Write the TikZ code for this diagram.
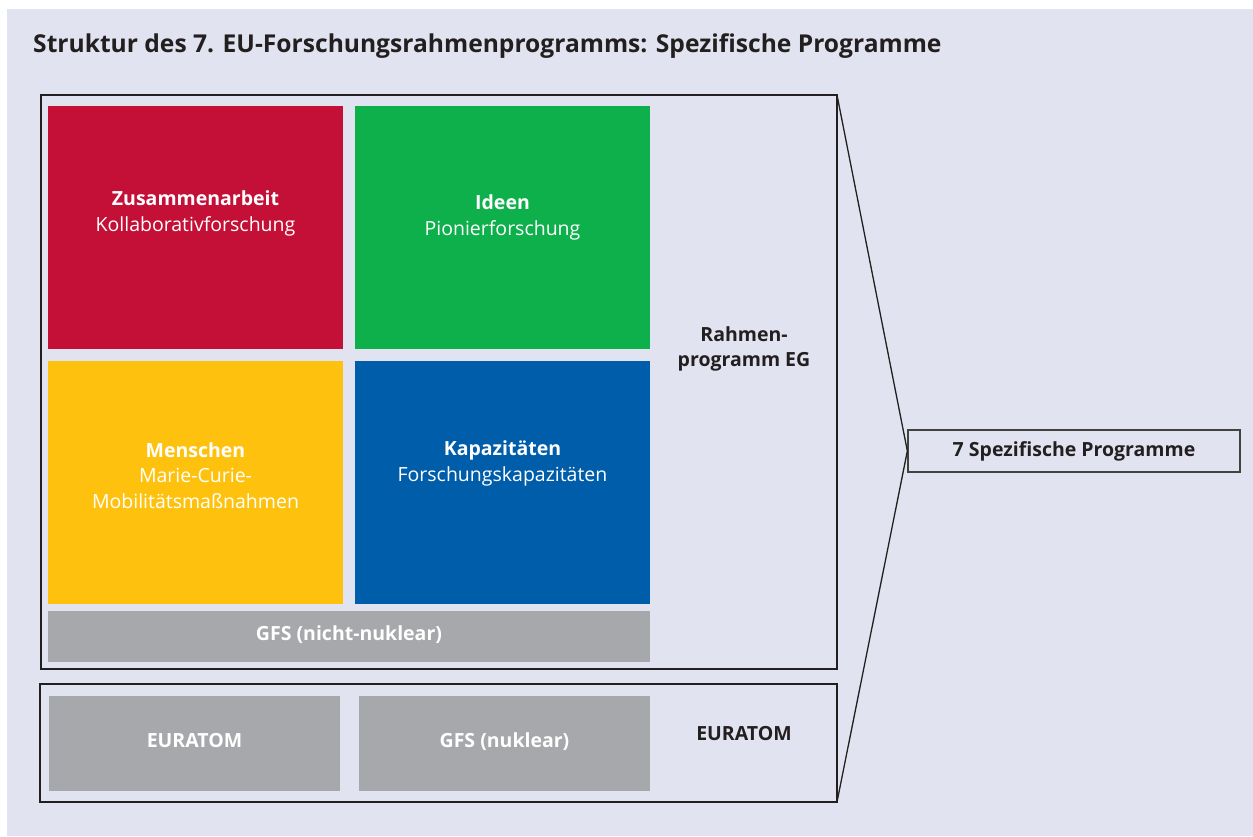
\documentclass[tikz,border=0pt]{standalone}
\usepackage{fontspec}
\setmainfont{Open Sans}
\usetikzlibrary{positioning}
\definecolor{bgblue}{HTML}{E1E4F0}
\definecolor{eured}{HTML}{C41036}
\definecolor{eugreen}{HTML}{0DB04B}
\definecolor{euyellow}{HTML}{FEC20E}
\definecolor{eublue}{HTML}{005DAA}
\definecolor{eugrey}{HTML}{A7A8AB}
\definecolor{ink}{HTML}{231F20}

\begin{document}
\begin{tikzpicture}[x=1pt, y=-1pt, node distance=12pt,
	tile/.style={rectangle, inner sep=0, outer sep=0, minimum width=295pt, minimum height=243pt},
	bar/.style={rectangle, fill=eugrey, inner sep=0, outer sep=0, text=white, text height=14pt, text depth=7pt, font=\fontsize{19.5}{25}\selectfont\bfseries},
	frame/.style={draw=ink, line width=1.3pt, inner sep=0, outer sep=0},
	txt/.style={text=white, align=center, font=\fontsize{19.5}{25.5}\selectfont},
	lab/.style={text=ink, align=center, font=\fontsize{19.5}{25.5}\selectfont\bfseries}]
	\useasboundingbox (0,0) rectangle (1253,836);
	\fill[bgblue] (7,9) rectangle (1253,836);
	\node[anchor=base west, text=ink, inner sep=0, font=\fontsize{24.6}{28}\selectfont\bfseries] (title) at (33,52) {Struktur des 7. EU-Forschungsrahmenprogramms: Spezifische Programme};
	% rahmen
	\node[frame, minimum width=796pt, minimum height=574pt] (rg) at (439,382) {};
	\node[tile, fill=eured, anchor=north west] (zus) at (48,106) {};
	\node[tile, fill=eugreen, right=of zus] (ideen) {};
	\node[tile, fill=euyellow, below=of zus] (men) {};
	\node[tile, fill=eublue, right=of men] (kap) {};
	\node[bar, minimum width=602pt, minimum height=51pt, below right=7pt and 0pt of men.south west] (gfs) {GFS (nicht-nuklear)};
	\node[txt] (zust) at ([yshift=14pt]zus.center) {\textbf{Zusammenarbeit}\\Kollaborativforschung};
	\node[txt] (ideent) at ([yshift=10pt]ideen.center) {\textbf{Ideen}\\Pionierforschung};
	\node[txt] (ment) at ([yshift=7pt]men.center) {\textbf{Menschen}\\Marie-Curie-\\Mobilitätsmaßnahmen};
	\node[txt] (kapt) at ([yshift=19pt]kap.center) {\textbf{Kapazitäten}\\Forschungskapazitäten};
	\node[lab] (rglab) at (744,349) {Rahmen-\\programm EG};
	% euratom
	\node[frame, minimum width=797pt, minimum height=118pt] (eu) at (438.5,743) {};
	\node[bar, minimum width=291pt, minimum height=95pt, anchor=north west] (eur) at (49,696) {EURATOM};
	\node[bar, minimum width=291pt, minimum height=95pt, right=19pt of eur] (gfsn) {GFS (nuklear)};
	\node[lab] (eulab) at (744,734) {EURATOM};
	% spezifische programme
	\node[lab, draw=ink!85, line width=1.3pt, minimum width=332pt, minimum height=42pt] (spez) at (1074,451) {7 Spezifische Programme};
	\draw[ink, line width=1.3pt] (rg.north east) -- (spez.west) -- (eu.south east);
\end{tikzpicture}
\end{document}
